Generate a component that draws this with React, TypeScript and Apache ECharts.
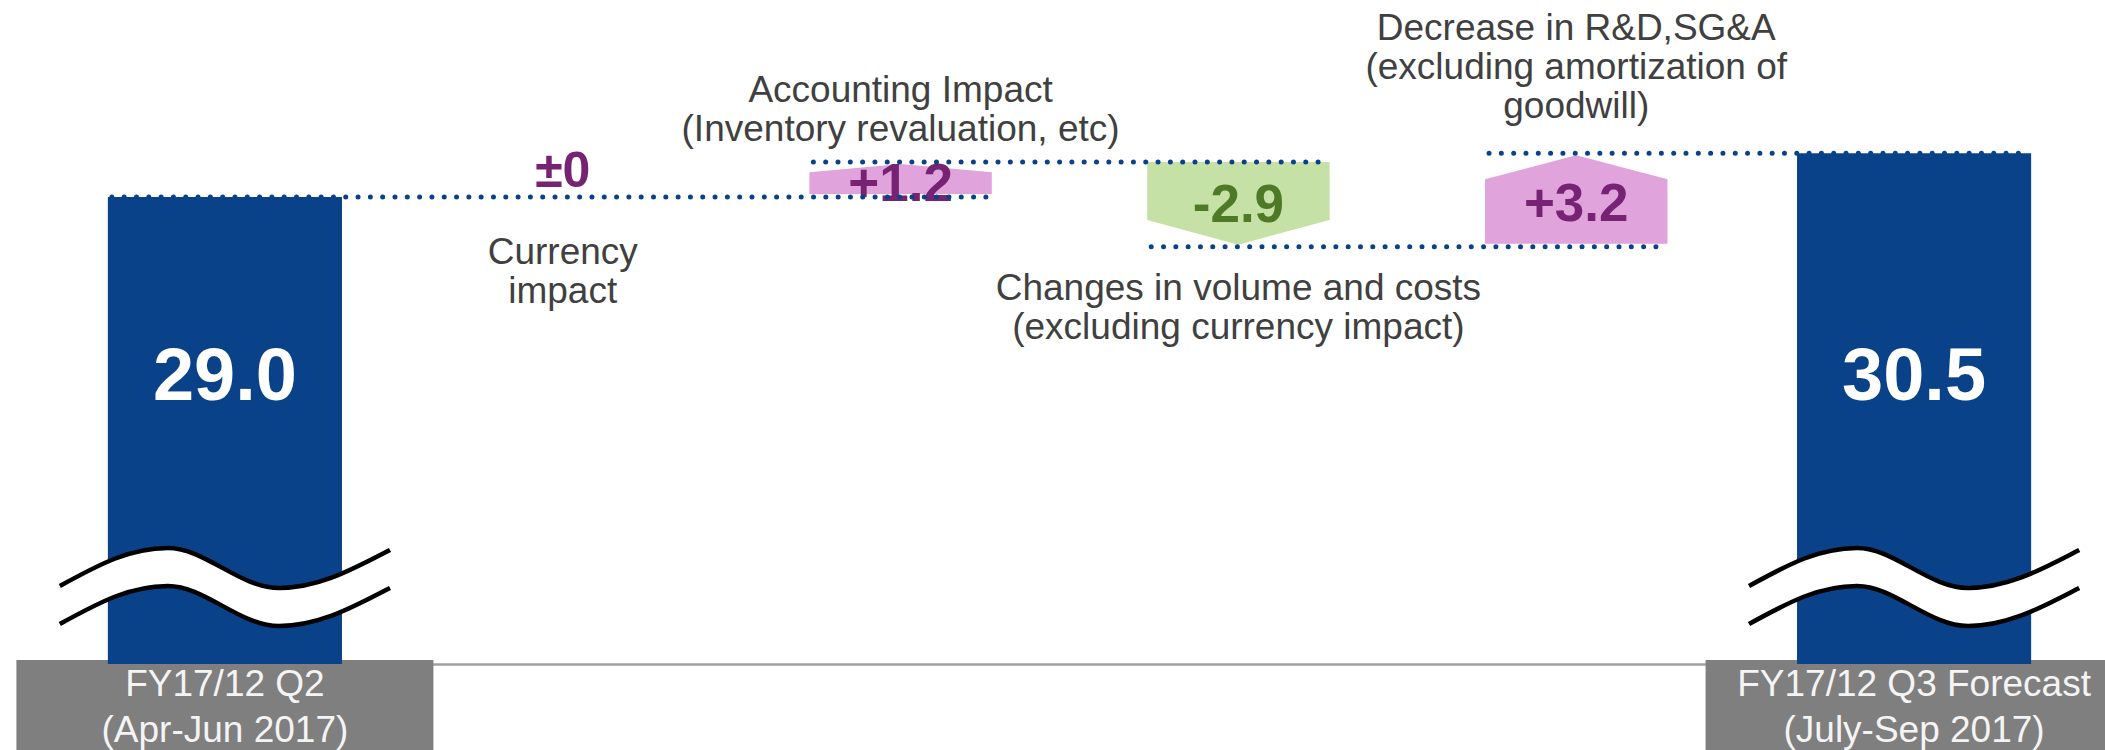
import React, { useEffect, useRef } from 'react';
import * as echarts from 'echarts';

const FONT = "'Liberation Sans', Arial, Helvetica, sans-serif";

const categories = ['q2', 'currency', 'accounting', 'volume', 'sga', 'q3'];
const categoryLabels = [
  'FY17/12 Q2\n(Apr-Jun 2017)',
  '',
  '',
  '',
  '',
  'FY17/12 Q3 Forecast\n(July-Sep 2017)',
];
const totalValues: (number | null)[] = [29.0, null, null, null, null, 30.5];
const deltaValues: (number | null)[] = [null, 0, 1.2, -2.9, 3.2, null];
const noteTexts = [
  '',
  'Currency\nimpact',
  'Accounting Impact\n(Inventory revaluation, etc)',
  'Changes in volume and costs\n(excluding currency impact)',
  'Decrease in R&D,SG&A\n(excluding amortization of\ngoodwill)',
  '',
];
const notePlacement = ['', 'below', 'above', 'below', 'above', ''];
const yMin = 13;
const yMax = 35;

const BLUE = '#0a428a';
const PINK = '#e0a3dc';
const PURPLE = '#752372';
const GREEN = '#c5e1a5';
const DKGREEN = '#4e7a27';
const TOTAL_W = 0.693;
const DELTA_W = 0.54;
const NOTE_GAP = [0, 35, 14, 21, 28, 0];

// running levels
const levelAfter: number[] = [];
const deltaItems: number[][] = [];
{
  let running = totalValues[0] as number;
  categories.forEach((_, i) => {
    if (totalValues[i] != null) {
      running = totalValues[i] as number;
    } else {
      const d = deltaValues[i] as number;
      const start = running;
      const end = Math.round((running + d) * 10) / 10;
      deltaItems.push([i, start, end, d]);
      running = end;
    }
    levelAfter.push(running);
  });
}
const totalItems = totalValues
  .map((v, i) => (v != null ? [i, v] : null))
  .filter((x) => x != null) as number[][];

const connectorItems: number[][] = [];
for (let k = 0; k < categories.length - 1; k++) {
  if (k > 0 && deltaValues[k] === 0) continue;
  let j = k + 1;
  while (j < categories.length && deltaValues[j] === 0) j++;
  if (j < categories.length) connectorItems.push([k, j, levelAfter[k]]);
}

const widthFrac = (idx: number) => (totalValues[idx] != null ? TOTAL_W : DELTA_W);

function wavePath(cx: number, y0: number, s: number) {
  const X = (dx: number) => (cx + dx * s).toFixed(1);
  const Y = (dy: number) => (y0 + dy).toFixed(1);
  return `M${X(-165)} ${Y(19)} C${X(-125)} ${Y(-3)} ${X(-95)} ${Y(-19)} ${X(-57)} ${Y(-19)} C${X(-20)} ${Y(-19)} ${X(15)} ${Y(21)} ${X(54)} ${Y(21)} C${X(95)} ${Y(21)} ${X(130)} ${Y(1)} ${X(165)} ${Y(-17)}`;
}
function waveRev(cx: number, y0: number, s: number) {
  const X = (dx: number) => (cx + dx * s).toFixed(1);
  const Y = (dy: number) => (y0 + dy).toFixed(1);
  return `L${X(165)} ${Y(-17)} C${X(130)} ${Y(1)} ${X(95)} ${Y(21)} ${X(54)} ${Y(21)} C${X(15)} ${Y(21)} ${X(-20)} ${Y(-19)} ${X(-57)} ${Y(-19)} C${X(-95)} ${Y(-19)} ${X(-125)} ${Y(-3)} ${X(-165)} ${Y(19)} Z`;
}

export default function App() {
  const ref = useRef<HTMLDivElement>(null);
  useEffect(() => {
    if (!ref.current) return;
    const chart = echarts.init(ref.current, undefined, { renderer: 'svg' });
    const option: any = {
      animation: false,
      backgroundColor: '#ffffff',
      grid: { left: 56, right: 22, top: 22, bottom: 86, containLabel: false, outerBoundsMode: 'none' },
      xAxis: {
        type: 'category',
        data: categories,
        axisLine: { show: true, lineStyle: { color: '#a0a0a0', width: 2.5 } },
        axisTick: { show: false },
        splitLine: { show: false },
        axisLabel: {
          interval: 0,
          margin: -4,
          hideOverlap: false,
          formatter: (_: string, idx: number) =>
            categoryLabels[idx]
              ? categoryLabels[idx]
                  .split('\n')
                  .map((s) => `{box|${s}}`)
                  .join('\n')
              : '',
          rich: {
            box: {
              width: 417,
              height: 46,
              lineHeight: 46,
              align: 'center',
              verticalAlign: 'middle',
              backgroundColor: '#7f7f7f',
              color: '#f4f4f4',
              fontSize: 37,
              fontFamily: FONT,
            },
          },
        },
      },
      yAxis: { type: 'value', min: yMin, max: yMax, show: false, splitLine: { show: false } },
      series: [
        {
          name: 'totals',
          type: 'custom',
          z: 2,
          encode: { x: 0, y: 1 },
          data: totalItems,
          renderItem: (params: any, api: any) => {
            const i = api.value(0);
            const v = api.value(1);
            const top = api.coord([i, v]);
            const cs = params.coordSys;
            const bottom = cs.y + cs.height;
            const band = api.size([1, 0])[0];
            const w = band * TOTAL_W;
            const cx = top[0];
            const s = w / 234;
            const yc = bottom - 78;
            const up = yc - 19;
            const lo = yc + 19;
            return {
              type: 'group',
              children: [
                {
                  type: 'rect',
                  shape: { x: cx - w / 2, y: top[1], width: w, height: bottom - top[1] },
                  style: { fill: BLUE },
                },
                {
                  type: 'path',
                  shape: { pathData: wavePath(cx, up, s) + ' ' + waveRev(cx, lo, s) },
                  style: { fill: '#ffffff', stroke: 'none' },
                },
                {
                  type: 'path',
                  shape: { pathData: wavePath(cx, up, s) },
                  style: { fill: 'none', stroke: '#000000', lineWidth: 4.5 },
                },
                {
                  type: 'path',
                  shape: { pathData: wavePath(cx, lo, s) },
                  style: { fill: 'none', stroke: '#000000', lineWidth: 4.5 },
                },
                {
                  type: 'text',
                  style: {
                    text: v.toFixed(1),
                    x: cx,
                    y: bottom - 290,
                    align: 'center',
                    verticalAlign: 'middle',
                    fontSize: 74,
                    fontWeight: 'bold',
                    fontFamily: FONT,
                    fill: '#ffffff',
                  },
                },
              ],
            };
          },
        },
        {
          name: 'deltas',
          type: 'custom',
          z: 3,
          encode: { x: 0, y: [1, 2] },
          data: deltaItems,
          renderItem: (params: any, api: any) => {
            const i = api.value(0);
            const s = api.value(1);
            const e = api.value(2);
            const d = api.value(3);
            const ps = api.coord([i, s]);
            const pe = api.coord([i, e]);
            const band = api.size([1, 0])[0];
            const w = band * DELTA_W;
            const xc = ps[0];
            const xl = xc - w / 2;
            const xr = xc + w / 2;
            const children: any[] = [];
            if (d === 0) {
              children.push({
                type: 'text',
                style: {
                  text: '±0',
                  x: xc,
                  y: ps[1] - 27,
                  align: 'center',
                  verticalAlign: 'middle',
                  fontSize: 50,
                  fontWeight: 'bold',
                  fontFamily: FONT,
                  fill: PURPLE,
                },
              });
            } else {
              let pts: number[][];
              let cy: number;
              if (d > 0) {
                const bottom = ps[1] - 3;
                const topY = pe[1] + 2;
                const h = 0.27 * (bottom - topY);
                pts = [[xl, bottom], [xl, topY + h], [xc, topY], [xr, topY + h], [xr, bottom]];
                cy = (bottom + topY) / 2 + 3;
              } else {
                const topY = ps[1];
                const bottom = pe[1] - 2;
                const h = 0.3 * (bottom - topY);
                pts = [[xl, topY], [xr, topY], [xr, bottom - h], [xc, bottom], [xl, bottom - h]];
                cy = (bottom + topY) / 2;
              }
              children.push({ type: 'polygon', shape: { points: pts }, style: { fill: d > 0 ? PINK : GREEN } });
              children.push({
                type: 'text',
                style: {
                  text: (d > 0 ? '+' : '') + d.toFixed(1),
                  x: xc,
                  y: cy,
                  align: 'center',
                  verticalAlign: 'middle',
                  fontSize: 53,
                  fontWeight: 'bold',
                  fontFamily: FONT,
                  fill: d > 0 ? PURPLE : DKGREEN,
                },
              });
            }
            const note = noteTexts[i];
            if (note) {
              const above = notePlacement[i] === 'above';
              const yTop = Math.min(ps[1], pe[1]);
              const yBot = Math.max(ps[1], pe[1]);
              children.push({
                type: 'text',
                style: {
                  text: note,
                  x: xc,
                  y: above ? yTop - NOTE_GAP[i] : yBot + NOTE_GAP[i],
                  align: 'center',
                  verticalAlign: above ? 'bottom' : 'top',
                  fontSize: 37,
                  lineHeight: 39,
                  fontFamily: FONT,
                  fill: '#404040',
                },
              });
            }
            return { type: 'group', children };
          },
        },
        {
          name: 'connectors',
          type: 'custom',
          z: 4,
          encode: { x: [0, 1], y: 2 },
          data: connectorItems,
          renderItem: (params: any, api: any) => {
            const a = api.value(0);
            const b = api.value(1);
            const lv = api.value(2);
            const pa = api.coord([a, lv]);
            const pb = api.coord([b, lv]);
            const band = api.size([1, 0])[0];
            const x1 = pa[0] - (band * widthFrac(a)) / 2 + 4;
            const x2 = pb[0] + (band * widthFrac(b)) / 2 - 4;
            return {
              type: 'line',
              shape: { x1, y1: pa[1], x2, y2: pb[1] },
              style: {
                stroke: BLUE,
                lineWidth: 5,
                lineDash: [0.01, 12.3],
                lineCap: 'round',
              },
            };
          },
        },
      ],
    };
    chart.setOption(option);
    return () => chart.dispose();
  }, []);
  return (
    <div
      ref={ref}
      style={{ position: 'fixed', left: 0, top: 0, width: 2105, height: 750, background: '#fff' }}
    />
  );
}
